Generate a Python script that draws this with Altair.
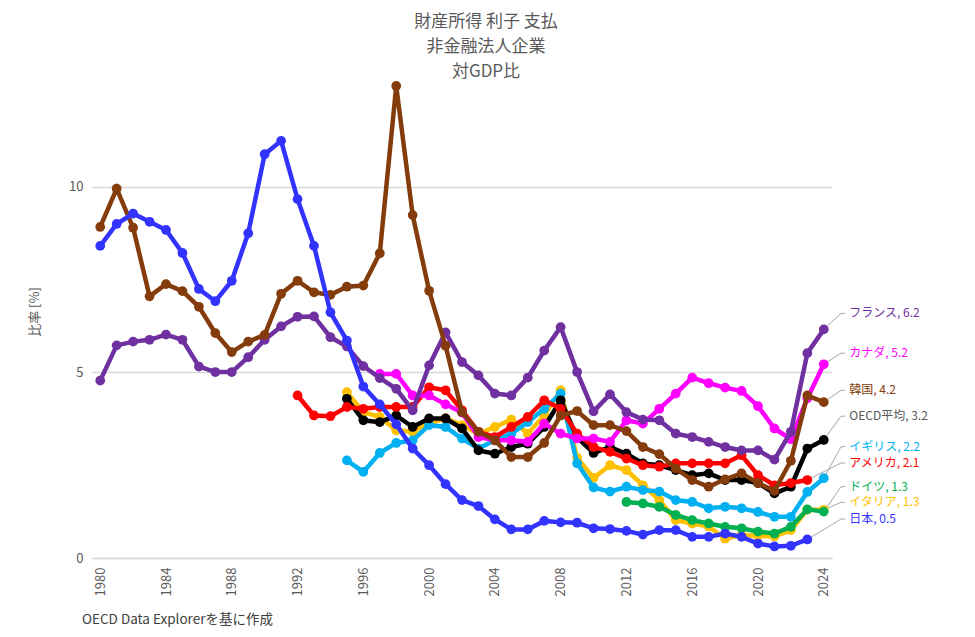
import altair as alt
import pandas as pd

# ---- text ----
title_lines = ["財産所得 利子 支払", "非金融法人企業", "対GDP比"]
y_title = "比率 [%]"
source_note = "OECD Data Explorerを基に作成"

# ---- data ----
japan_start = 1980
japan = [8.41, 9.0, 9.28, 9.06, 8.84, 8.22, 7.25, 6.92, 7.47, 8.75,
         10.88, 11.24, 9.67, 8.41, 6.62, 5.86, 4.62, 4.14, 3.6, 2.95,
         2.5, 1.99, 1.56, 1.4, 1.04, 0.77, 0.77, 1.0, 0.96, 0.95,
         0.8, 0.78, 0.73, 0.63, 0.75, 0.75, 0.57, 0.57, 0.66, 0.57,
         0.39, 0.31, 0.33, 0.5]

korea_start = 1980
korea = [8.92, 9.95, 8.9, 7.05, 7.38, 7.19, 6.77, 6.06, 5.55, 5.83,
         6.01, 7.12, 7.47, 7.16, 7.09, 7.31, 7.34, 8.21, 12.72, 9.24,
         7.2, 5.72, 3.93, 3.4, 3.17, 2.72, 2.72, 3.1, 3.84, 3.96,
         3.58, 3.58, 3.42, 2.99, 2.8, 2.41, 2.1, 1.92, 2.12, 2.28,
         2.02, 1.81, 2.62, 4.38, 4.2]

france_start = 1980
france = [4.78, 5.73, 5.83, 5.88, 6.02, 5.88, 5.16, 5.01, 5.01, 5.41,
          5.88, 6.24, 6.5, 6.51, 5.95, 5.7, 5.17, 4.85, 4.56, 3.98,
          5.19, 6.08, 5.28, 4.92, 4.43, 4.38, 4.86, 5.59, 6.22, 5.01,
          3.95, 4.41, 3.93, 3.73, 3.71, 3.35, 3.26, 3.13, 2.99, 2.9,
          2.9, 2.65, 3.4, 5.52, 6.16]

canada_start = 1997
canada = [4.96, 4.96, 4.38, 4.38, 4.14, 3.92, 3.26, 3.17, 3.17, 3.13,
          3.62, 3.35, 3.22, 3.22, 3.13, 3.71, 3.62, 4.02, 4.43, 4.86,
          4.71, 4.59, 4.5, 4.09, 3.49, 3.2, 4.3, 5.22]

oecd_start = 1995
oecd = [4.29, 3.71, 3.66, 3.84, 3.53, 3.76, 3.76, 3.49, 2.9, 2.81,
        2.99, 3.08, 3.53, 4.25, 3.25, 2.83, 2.99, 2.81, 2.55, 2.5,
        2.37, 2.23, 2.28, 2.1, 2.1, 2.02, 1.74, 1.92, 2.95, 3.18]

usa_start = 1992
usa = [4.38, 3.84, 3.82, 4.07, 4.02, 4.07, 4.07, 4.07, 4.6, 4.52,
       3.98, 3.4, 3.26, 3.53, 3.8, 4.25, 4.02, 3.35, 2.99, 2.86,
       2.68, 2.5, 2.46, 2.55, 2.55, 2.55, 2.55, 2.77, 2.23, 1.96,
       2.02, 2.1]

uk_start = 1995
uk = [2.63, 2.32, 2.83, 3.1, 3.17, 3.58, 3.53, 3.22, 2.95, 3.17,
      3.35, 3.66, 4.02, 4.43, 2.55, 1.9, 1.79, 1.92, 1.83, 1.79,
      1.56, 1.51, 1.34, 1.38, 1.34, 1.24, 1.11, 1.11, 1.78, 2.15]

italy_start = 1995
italy = [4.47, 3.93, 3.8, 3.44, 3.4, 3.62, 3.76, 3.58, 3.35, 3.53,
         3.73, 3.35, 3.84, 4.52, 2.7, 2.16, 2.5, 2.37, 1.96, 1.56,
         1.02, 0.93, 0.85, 0.52, 0.62, 0.6, 0.58, 0.75, 1.3, 1.3]

germany_start = 2012
germany = [1.51, 1.47, 1.38, 1.16, 1.02, 0.93, 0.84, 0.8, 0.71, 0.66,
           0.84, 1.31, 1.25]

# end labels (text) and their vertical anchor in data units
end_labels = {
    "フランス": "フランス, 6.2",
    "カナダ": "カナダ, 5.2",
    "韓国": "韓国, 4.2",
    "OECD平均": "OECD平均, 3.2",
    "イギリス": "イギリス, 2.2",
    "アメリカ": "アメリカ, 2.1",
    "ドイツ": "ドイツ, 1.3",
    "イタリア": "イタリア, 1.3",
    "日本": "日本, 0.5",
}
label_anchor = {
    "フランス": 6.59, "カナダ": 5.52, "韓国": 4.52, "OECD平均": 3.82,
    "イギリス": 3.0, "アメリカ": 2.56, "ドイツ": 1.92, "イタリア": 1.5,
    "日本": 1.05,
}

# drawing order (bottom -> top), colours
series = [
    ("イタリア", italy_start, italy, "#FFC000", "#FFC000"),
    ("ドイツ", germany_start, germany, "#00B050", "#00B050"),
    ("イギリス", uk_start, uk, "#00B0F0", "#00B0F0"),
    ("OECD平均", oecd_start, oecd, "#000000", "#595959"),
    ("アメリカ", usa_start, usa, "#FF0000", "#FF0000"),
    ("カナダ", canada_start, canada, "#FF00FF", "#FF00FF"),
    ("フランス", france_start, france, "#7030A0", "#7030A0"),
    ("韓国", korea_start, korea, "#843C0C", "#843C0C"),
    ("日本", japan_start, japan, "#3333FF", "#3333FF"),
]

FONT = "Noto Sans CJK JP"
TXT = "#595959"

x_scale = alt.Scale(domain=[1979.5, 2024.5], nice=False, zero=False)
y_scale = alt.Scale(domain=[0, 12.88], nice=False)

x_axis = alt.Axis(values=list(range(1980, 2025, 2)), format="d", labelAngle=270,
                  labelPadding=9, ticks=False, grid=False, domainColor="#D9D9D9",
                  domainWidth=1.5, labelColor=TXT, labelFontSize=13, labelFont=FONT,
                  title=None)
y_axis = alt.Axis(values=[0, 5, 10], ticks=False, domain=False, gridColor="#D9D9D9",
                  gridWidth=1.5, labelPadding=9, labelColor=TXT, labelFontSize=13,
                  labelFont=FONT, title=None)

layers = []

# leader lines
lead_rows = []
for name, start, vals, col, lcol in series:
    last_year = start + len(vals) - 1
    lead_rows += [
        {"s": name, "k": 0, "x": last_year, "y": vals[-1]},
        {"s": name, "k": 1, "x": 2025.05, "y": label_anchor[name]},
        {"s": name, "k": 2, "x": 2025.3, "y": label_anchor[name]},
    ]
lead_df = pd.DataFrame(lead_rows)
layers.append(
    alt.Chart(lead_df).mark_line(color="#A6A6A6", strokeWidth=1).encode(
        x=alt.X("x:Q", scale=x_scale, axis=x_axis),
        y=alt.Y("y:Q", scale=y_scale, axis=y_axis),
        detail="s:N",
        order="k:Q",
    )
)

for name, start, vals, col, lcol in series:
    df = pd.DataFrame({"year": list(range(start, start + len(vals))), "value": vals})
    base = alt.Chart(df).encode(
        x=alt.X("year:Q", scale=x_scale, axis=x_axis),
        y=alt.Y("value:Q", scale=y_scale, axis=y_axis),
    )
    layers.append(base.mark_line(color=col, strokeWidth=4.5))
    layers.append(base.mark_point(color=col, filled=True, opacity=1, size=95))

# end labels
lab_df = pd.DataFrame([
    {"s": n, "x": 2025.55, "y": label_anchor[n], "t": end_labels[n], "c": lc}
    for n, st, v, c, lc in series
])
layers.append(
    alt.Chart(lab_df).mark_text(align="left", baseline="middle", fontSize=12, font=FONT).encode(
        x=alt.X("x:Q", scale=x_scale),
        y=alt.Y("y:Q", scale=y_scale),
        text="t:N",
        color=alt.Color("c:N", scale=None),
    )
)

# title
for i, line in enumerate(title_lines):
    layers.append(
        alt.Chart(pd.DataFrame({"t": [line]})).mark_text(
            align="center", baseline="middle", fontSize=17, font=FONT, color=TXT
        ).encode(text="t:N", x=alt.value(394), y=alt.value(-58 + 25 * i))
    )

# y axis title
layers.append(
    alt.Chart(pd.DataFrame({"t": [y_title]})).mark_text(
        align="center", baseline="middle", fontSize=13, font=FONT, color=TXT, angle=270
    ).encode(text="t:N", x=alt.value(-57), y=alt.value(232))
)

# source note
layers.append(
    alt.Chart(pd.DataFrame({"t": [source_note]})).mark_text(
        align="left", baseline="middle", fontSize=13.5, font=FONT, color="#404040"
    ).encode(text="t:N", x=alt.value(-10), y=alt.value(540))
)

chart = alt.layer(*layers).properties(
    width=740, height=478,
    autosize=alt.AutoSizeParams(type="none"),
    padding={"left": 84, "top": 72, "right": 135, "bottom": 70},
).configure(font=FONT).configure_view(stroke=None)

chart.save("out.html", embed_options={"renderer": "svg", "actions": False})
